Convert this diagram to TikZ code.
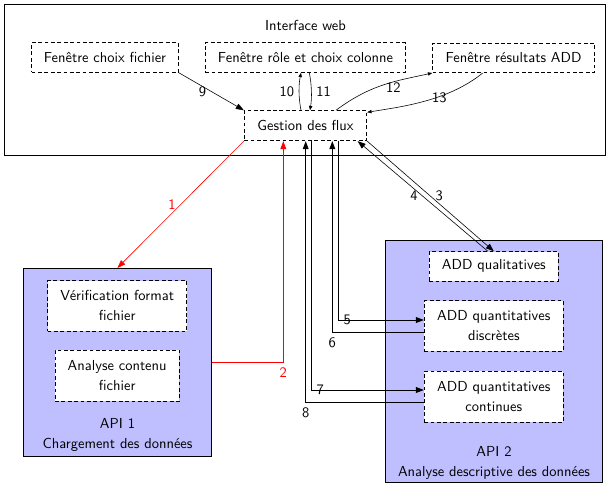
\documentclass[tikz,border=0pt]{standalone}
\usetikzlibrary{arrows.meta,calc}
\begin{document}
\begin{tikzpicture}[x=0.69pt,y=-0.69pt,font=\sffamily,
  box/.style={draw,dash pattern=on 2.6pt off 1.8pt,semithick,fill=white,inner sep=2pt,align=center},
  apibox/.style={draw,semithick,fill=blue!25,inner sep=0pt},
  flow/.style={thin,-{Triangle[length=5.5pt,width=4pt]}},
  flowk/.style={semithick,-{Triangle[length=5.5pt,width=4pt]}},
  smallflow/.style={thin,-{Triangle[length=3pt,width=2.3pt]}}]
\useasboundingbox (0,0) rectangle (609,489);
% outer frame
\node[draw,semithick,minimum width=414.3pt,minimum height=103.8pt,inner sep=0pt] (web) at (304.75,79.75) {};
\node (webt) at (305.5,25) {Interface web};
% API boxes
\node[apibox,minimum width=130pt,minimum height=129.5pt] (api1) at (117.5,362.2) {};
\node[apibox,minimum width=149.7pt,minimum height=167pt] (api2) at (494,361.7) {};
\node[align=center] (api1t) at (117.5,435) {API 1\\[2pt]Chargement des données};
\node[align=center] (api2t) at (494,462.7) {API 2\\[2pt]Analyse descriptive des données};
% dashed boxes
\node[box,minimum width=101.2pt,minimum height=20.4pt] (fc) at (105,57.5) {Fenêtre choix fichier};
\node[box,minimum width=138.3pt,minimum height=20.4pt] (fr) at (305.5,57.5) {Fenêtre rôle et choix colonne};
\node[box,minimum width=111.5pt,minimum height=20.4pt] (fa) at (513.5,57.8) {Fenêtre résultats ADD};
\node[box,minimum width=84.5pt,minimum height=20.7pt] (gf) at (305.5,125.7) {Gestion des flux};
\node[box,minimum width=95.9pt,minimum height=34.7pt] (vf) at (117.2,305.8) {Vérification format\\[2pt]fichier};
\node[box,minimum width=85.8pt,minimum height=35.2pt] (ac) at (117.2,375.8) {Analyse contenu\\[2pt]fichier};
\node[box,minimum width=89pt,minimum height=20.2pt] (aq) at (493.8,266.3) {ADD qualitatives};
\node[box,minimum width=95.9pt,minimum height=34.7pt] (dq) at (493.8,325.8) {ADD quantitatives\\[2pt]discrètes};
\node[box,minimum width=95.9pt,minimum height=35.2pt] (cq) at (493.8,396.8) {ADD quantitatives\\[2pt]continues};
% red flows
\draw[flow,red] (gf.south west) -- node[left]{1} (api1.north);
\draw[flowk,red] (api1.east) -| node[pos=0.5,below]{2} ($(gf.south)+(-22.2,0)$);
% flows to API 2
\draw[flow] (gf.south east) -- node[right]{3} (aq.north);
\draw[flow] ($(aq.north)+(-6,0)$) -- node[left]{4} ($(gf.south east)+(-9.5,0)$);
\draw[flowk] ($(gf.south)+(32.8,0)$) |- node[pos=0.5,right]{5} ($(dq.west)+(0,-5.8)$);
\draw[flowk] ($(dq.west)+(0,6.5)$) -| node[pos=0.5,below]{6} ($(gf.south)+(26.8,0)$);
\draw[flowk] ($(gf.south)+(5.8,0)$) |- node[pos=0.5,right]{7} ($(cq.west)+(0,-6.8)$);
\draw[flowk] ($(cq.west)+(0,5.2)$) -| node[pos=0.5,below]{8} ($(gf.south)+(0.2,0)$);
% web flows
\draw[flow] (fc.south east) -- node[left]{9} (gf.north west);
\draw[smallflow] ($(gf.north)+(-4.5,0)$) .. controls +(-2.5,-12.7) and +(-2.5,12.7) .. ($(fr.south)+(-4.5,0)$) node[pos=0.5,left]{10};
\draw[smallflow] ($(fr.south)+(3.8,0)$) .. controls +(2.5,12.7) and +(2,-12.7) .. ($(gf.north)+(4.5,0)$) node[pos=0.5,right]{11};
\draw[smallflow] ($(gf.north)+(30.5,0)$) .. controls +(35,-26.2) and +(-35,7.7) .. (fa.south west) node[pos=0.6,yshift=-4.2pt]{12};
\draw[smallflow] ($(fa.south)+(-30.8,0)$) .. controls +(-34.7,28) and +(35,-5.6) .. ($(gf.north east)+(0,2)$) node[pos=0.4,xshift=1.6pt,yshift=-0.3pt]{13};
\end{tikzpicture}
\end{document}
